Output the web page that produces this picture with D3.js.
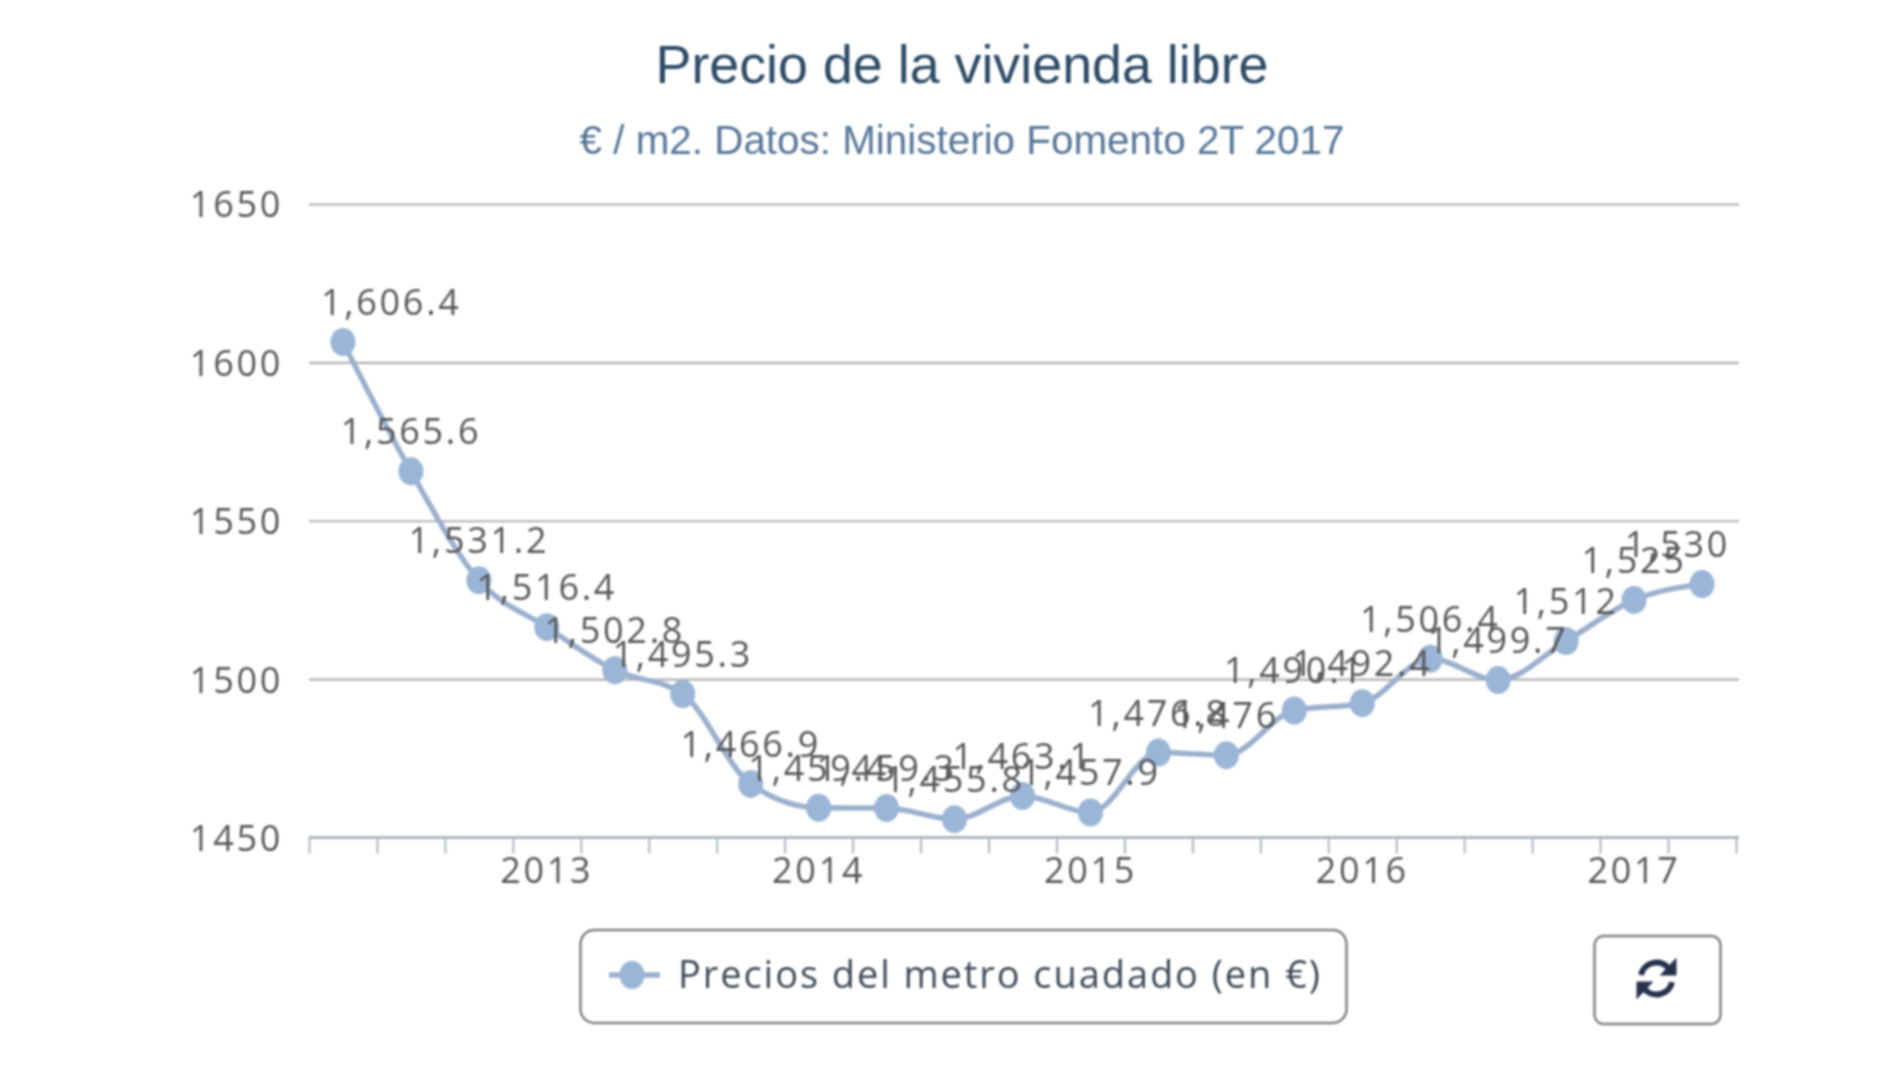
<!DOCTYPE html>
<html>
<head>
<meta charset="utf-8">
<title>Precio de la vivienda libre</title>
<script src="https://cdn.jsdelivr.net/npm/d3@7"></script>
<style>
  html, body { margin: 0; padding: 0; background: #fff; }
  svg { display: block; filter: blur(0.9px); }
  .lbl { font-family: "Open Sans", sans-serif; font-size: 36px; letter-spacing: 2.7px; fill: #575757; }
  .domain { display: none; }
</style>
</head>
<body>
<svg id="chart" width="1900" height="1069"></svg>
<script>
const quarters = ["2T12","3T12","4T12","2013","2T13","3T13","4T13","2014","2T14","3T14","4T14","2015","2T15","3T15","4T15","2016","2T16","3T16","4T16","2017","2T17"];
const precios = [1606.4,1565.6,1531.2,1516.4,1502.8,1495.3,1466.9,1459.4,1459.3,1455.8,1463.1,1457.9,1476.8,1476,1490.1,1492.4,1506.4,1499.7,1512,1525,1530];
const yearLabels = ["2013","2014","2015","2016","2017"];
const yTicks = [1450,1500,1550,1600,1650];

const titleText = "Precio de la vivienda libre";
const subtitleText = "€ / m2. Datos: Ministerio Fomento 2T 2017";
const legendText = "Precios del metro cuadado (en €)";

const plotLeft = 309, plotRight = 1739, bandRight = 1736, plotTop = 204, plotBottom = 837.5;

const svg = d3.select("#chart");

const x = d3.scaleBand().domain(quarters).range([plotLeft, bandRight]);
const xEdges = d3.scaleLinear().domain([0, quarters.length]).range([plotLeft, bandRight]);
const y = d3.scaleLinear().domain([1450, 1650]).range([plotBottom, plotTop]);

// title + subtitle
svg.append("text").attr("x", 962).attr("y", 83)
  .attr("text-anchor", "middle")
  .attr("textLength", 613).attr("lengthAdjust", "spacingAndGlyphs")
  .style("font-family", "'Liberation Sans', Arial, sans-serif")
  .style("font-size", "54px").style("fill", "#2c4a66")
  .text(titleText);
svg.append("text").attr("x", 962).attr("y", 154)
  .attr("text-anchor", "middle")
  .attr("textLength", 765).attr("lengthAdjust", "spacingAndGlyphs")
  .style("font-family", "'Liberation Sans', Arial, sans-serif")
  .style("font-size", "41px").style("fill", "#567699")
  .text(subtitleText);

// grid and y labels
const yAxis = svg.append("g").attr("transform", `translate(${plotLeft},0)`)
  .call(d3.axisLeft(y).tickValues(yTicks).tickSize(-(plotRight - plotLeft)).tickPadding(26).tickFormat(d3.format("d")));
yAxis.selectAll("line").attr("stroke", "#b0b0b0").attr("stroke-width", 2.2);
yAxis.selectAll("text").attr("class", "lbl").attr("dy", "0.36em");

// x ticks sit on the band edges, year labels in the band centres
const xTicks = svg.append("g").attr("transform", `translate(0,${plotBottom})`)
  .call(d3.axisBottom(xEdges).ticks(quarters.length).tickSize(16).tickFormat(""));
xTicks.selectAll("line").attr("stroke", "#adb5c0").attr("stroke-width", 2);

const xLabels = svg.append("g").attr("transform", `translate(0,${plotBottom})`)
  .call(d3.axisBottom(x).tickValues(yearLabels).tickSize(0).tickPadding(20));
xLabels.selectAll("text").attr("class", "lbl");

svg.append("line").attr("x1", plotLeft).attr("x2", plotRight).attr("y1", plotBottom).attr("y2", plotBottom)
  .attr("stroke", "#adb5c0").attr("stroke-width", 3);

// line + markers
const px = (d, i) => x(quarters[i]) + x.bandwidth() / 2;
const line = d3.line().x(px).y(d => y(d)).curve(d3.curveMonotoneX);
svg.append("path").datum(precios)
  .attr("fill", "none").attr("stroke", "#9bb0ce").attr("stroke-width", 5.5)
  .attr("d", line);
svg.selectAll("ellipse.pt").data(precios).join("ellipse")
  .attr("class", "pt")
  .attr("cx", px).attr("cy", d => y(d))
  .attr("rx", 12.5).attr("ry", 14)
  .attr("fill", "#9ab5d6");

// data labels, pushed back inside the plot at both ends
const fmt = d3.format(",.1~f");
svg.selectAll("text.val").data(precios).join("text")
  .attr("class", "val lbl")
  .attr("text-anchor", "middle")
  .attr("x", px)
  .attr("y", d => y(d) - 27)
  .text(fmt)
  .each(function (d, i) {
    const w = this.getComputedTextLength();
    const cx = Math.min(Math.max(px(d, i), plotLeft + 12 + w / 2), plotRight - 9 - w / 2);
    d3.select(this).attr("x", cx);
  });

// legend
const legend = svg.append("g");
legend.append("rect").attr("x", 580.5).attr("y", 930).attr("width", 766).attr("height", 93).attr("rx", 14)
  .attr("fill", "#fff").attr("stroke", "#828282").attr("stroke-width", 2.5);
legend.append("line").attr("x1", 609).attr("x2", 660).attr("y1", 975).attr("y2", 975)
  .attr("stroke", "#9bb0ce").attr("stroke-width", 5.5);
legend.append("ellipse").attr("cx", 632).attr("cy", 975).attr("rx", 12.5).attr("ry", 14).attr("fill", "#9ab5d6");
legend.append("text").attr("x", 678).attr("y", 988)
  .attr("textLength", 642).attr("lengthAdjust", "spacing")
  .style("font-family", "'Open Sans', sans-serif").style("font-size", "38px").style("fill", "#3f4a58")
  .text(legendText);

// refresh button
const btn = svg.append("g");
btn.append("rect").attr("x", 1594.5).attr("y", 936).attr("width", 126).attr("height", 88).attr("rx", 9)
  .attr("fill", "#fff").attr("stroke", "#828282").attr("stroke-width", 2.5);
const icon = btn.append("g").attr("transform", "translate(1656.5,978.5)");
const arc = d3.arc().innerRadius(13).outerRadius(19);
icon.append("path").attr("d", arc({ startAngle: -1.35, endAngle: 0.95 })).attr("fill", "#26324d");
icon.append("path").attr("d", arc({ startAngle: 1.8, endAngle: 4.1 })).attr("fill", "#26324d");
icon.append("path").attr("d", d3.line()([[20, -21], [20, -3], [3, -3]])).attr("fill", "#26324d");
icon.append("path").attr("d", d3.line()([[-20, 21], [-20, 3], [-3, 3]])).attr("fill", "#26324d");
</script>
</body>
</html>
